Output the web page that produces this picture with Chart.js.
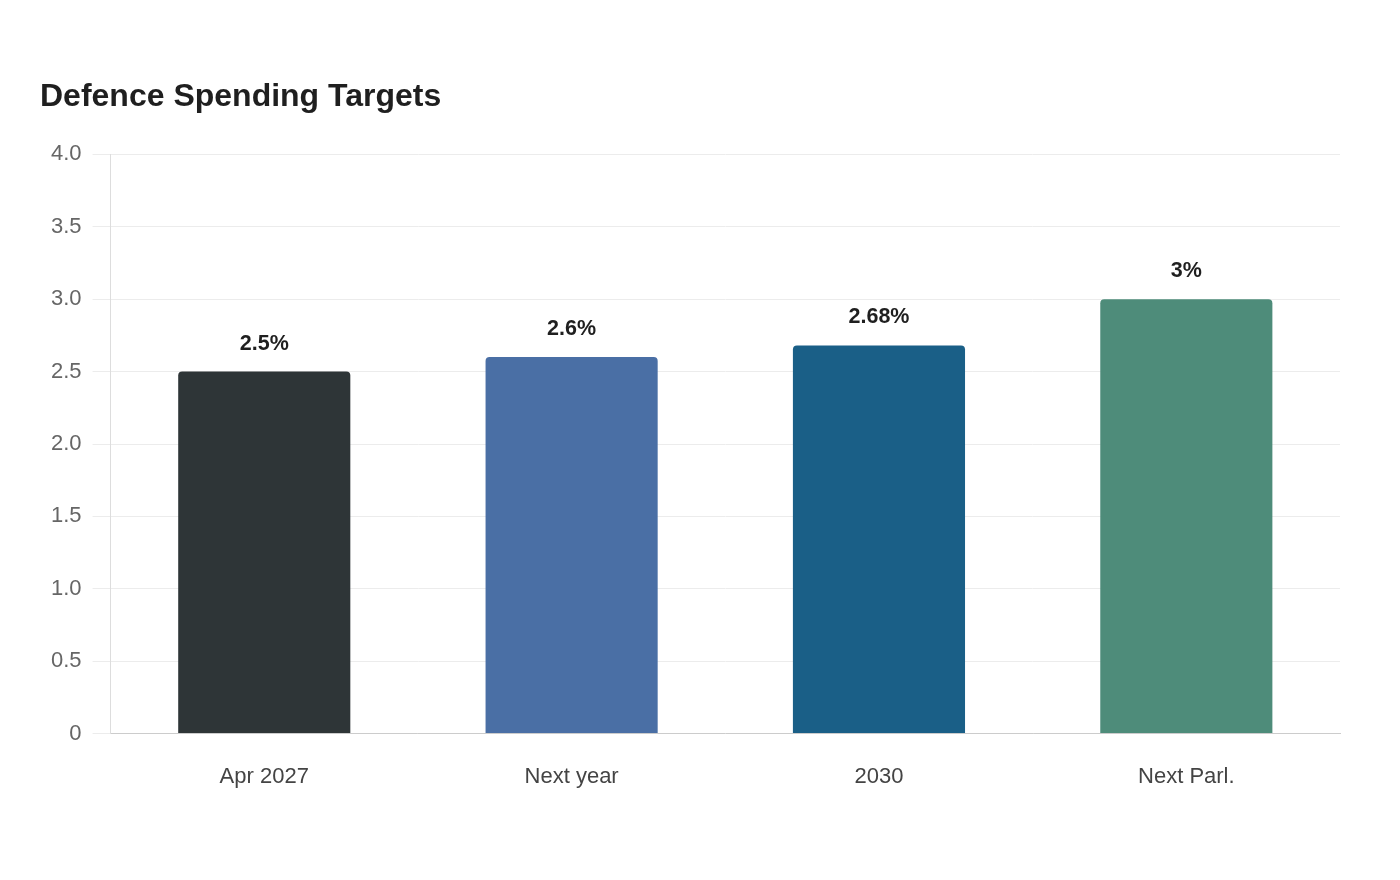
<!DOCTYPE html>
<html>
<head>
<meta charset="utf-8">
<title>Defence Spending Targets</title>
<script src="https://cdn.jsdelivr.net/npm/chart.js@4.4.1/dist/chart.umd.min.js"></script>
<style>
  html, body { margin: 0; padding: 0; background: #fff; }
  #wrap { width: 1400px; height: 880px; position: relative; }
</style>
</head>
<body>
<div id="wrap"><canvas id="chart" width="1400" height="880"></canvas></div>
<script>
// Chart data
const categories = ['Apr 2027', 'Next year', '2030', 'Next Parl.'];
const targetValues = [2.5, 2.6, 2.68, 3];
const valueLabels = ['2.5%', '2.6%', '2.68%', '3%'];
const barColors = ['#2e3537', '#4a6fa5', '#1a5f87', '#4e8c7a'];

const FONT = '"Liberation Sans", Arial, sans-serif';

// draw the % labels above each bar
const valueLabelPlugin = {
  id: 'valueLabels',
  afterDatasetsDraw(chart) {
    const ctx = chart.ctx;
    const meta = chart.getDatasetMeta(0);
    ctx.save();
    ctx.font = 'bold 21.5px ' + FONT;
    ctx.fillStyle = '#1f1f1f';
    ctx.textAlign = 'center';
    ctx.textBaseline = 'middle';
    meta.data.forEach((bar, i) => {
      ctx.fillText(valueLabels[i], bar.x, bar.y - 28);
    });
    ctx.restore();
  }
};

const ctx = document.getElementById('chart').getContext('2d');
new Chart(ctx, {
  type: 'bar',
  data: {
    labels: categories,
    datasets: [{
      data: targetValues,
      backgroundColor: barColors,
      borderRadius: { topLeft: 4, topRight: 4 },
      borderSkipped: 'bottom',
      barPercentage: 0.7,
      categoryPercentage: 0.8
    }]
  },
  options: {
    responsive: false,
    animation: false,
    layout: { padding: { left: 40, right: 60, top: 78, bottom: 68 } },
    plugins: {
      legend: { display: false },
      tooltip: { enabled: false },
      title: {
        display: true,
        text: 'Defence Spending Targets',
        align: 'start',
        color: '#1f1f1f',
        font: { family: FONT, size: 32, weight: 'bold' },
        padding: { top: 0, bottom: 38 }
      }
    },
    scales: {
      x: {
        grid: { display: false },
        border: { color: '#cccccc', width: 1 },
        ticks: {
          color: '#444',
          padding: 22,
          font: { family: FONT, size: 22 }
        }
      },
      y: {
        min: 0,
        max: 4,
        grid: { color: '#ececec', tickLength: 18 },
        border: { color: '#dddddd', width: 1 },
        ticks: {
          stepSize: 0.5,
          color: '#666',
          padding: 11,
          font: { family: FONT, size: 22 },
          callback: (v) => v === 0 ? '0' : v.toFixed(1)
        }
      }
    }
  },
  plugins: [valueLabelPlugin]
});
</script>
</body>
</html>
